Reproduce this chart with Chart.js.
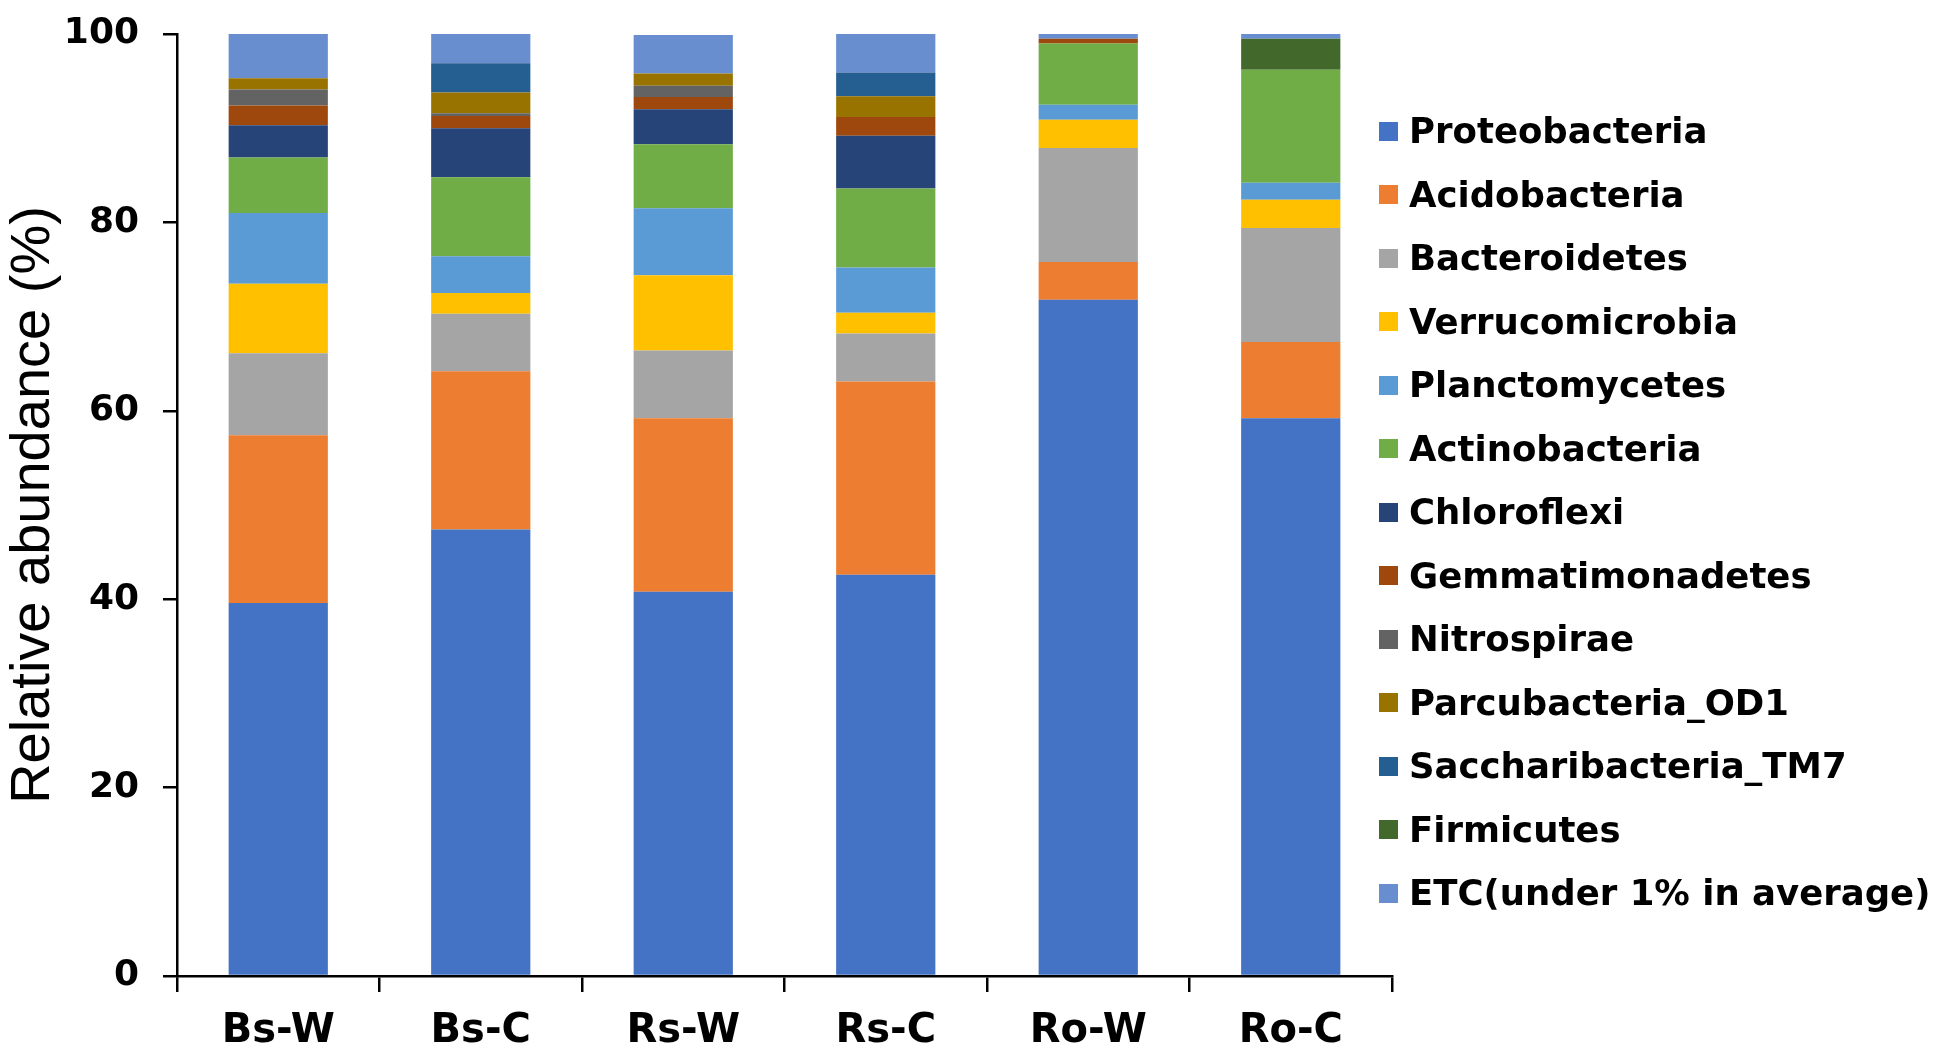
<!DOCTYPE html>
<html>
<head>
<meta charset="utf-8">
<script src="https://cdn.jsdelivr.net/npm/chart.js@4/dist/chart.umd.min.js"></script>
<style>
  html, body { margin: 0; padding: 0; background: #fff; }
  #wrap { position: relative; width: 1950px; height: 1064px; }
  #legend { position: absolute; left: 1379px; top: 99px; font-family: "DejaVu Sans", sans-serif; font-weight: bold; font-size: 35.5px; color: #000; }
  #legend div { height: 63.5px; line-height: 63.5px; white-space: nowrap; }
  #legend span { display: inline-block; width: 19px; height: 19px; margin-right: 11px; vertical-align: middle; position: relative; top: -2px; }
</style>
</head>
<body>
<div id="wrap">
  <canvas id="myChart" width="1950" height="1064"></canvas>
  <div id="legend"></div>
</div>
<script>
let samples = ['Bs-W', 'Bs-C', 'Rs-W', 'Rs-C', 'Ro-W', 'Ro-C'];

let proteobacteria   = [39.6, 47.4, 40.8, 42.6, 71.8, 59.2];
let acidobacteria    = [17.8, 16.8, 18.4, 20.5, 4.0, 8.1];
let bacteroidetes    = [8.7, 6.1, 7.2, 5.1, 12.1, 12.1];
let verrucomicrobia  = [7.4, 2.2, 8.0, 2.2, 3.0, 3.0];
let planctomycetes   = [7.5, 3.9, 7.1, 4.8, 1.6, 1.8];
let actinobacteria   = [5.9, 8.4, 6.8, 8.4, 6.5, 12.0];
let chloroflexi      = [3.4, 5.2, 3.7, 5.6, 0, 0];
let gemmatimonadetes = [2.1, 1.3, 1.3, 2.0, 0.5, 0];
let nitrospirae      = [1.7, 0.3, 1.2, 0, 0, 0];
let parcubacteria    = [1.2, 2.2, 1.3, 2.2, 0, 0];
let saccharibacteria = [0, 3.1, 0, 2.5, 0, 0];
let firmicutes       = [0, 0, 0, 0, 0, 3.3];
let etc              = [4.7, 3.1, 4.1, 4.1, 0.5, 0.5];

let yTicks = [0, 20, 40, 60, 80, 100];

let phyla = [
  ['Proteobacteria', proteobacteria, '#4472C4'],
  ['Acidobacteria', acidobacteria, '#ED7D31'],
  ['Bacteroidetes', bacteroidetes, '#A5A5A5'],
  ['Verrucomicrobia', verrucomicrobia, '#FFC000'],
  ['Planctomycetes', planctomycetes, '#5B9BD5'],
  ['Actinobacteria', actinobacteria, '#70AD47'],
  ['Chloroflexi', chloroflexi, '#264478'],
  ['Gemmatimonadetes', gemmatimonadetes, '#9E480E'],
  ['Nitrospirae', nitrospirae, '#636363'],
  ['Parcubacteria_OD1', parcubacteria, '#997300'],
  ['Saccharibacteria_TM7', saccharibacteria, '#255E91'],
  ['Firmicutes', firmicutes, '#43682B'],
  ['ETC(under 1% in average)', etc, '#698ED0']
];

let ctx = document.getElementById('myChart').getContext('2d');

let abundanceChart = new Chart(ctx, {
  type: 'bar',
  data: {
    labels: samples,
    datasets: phyla.map(p => ({
      label: p[0],
      data: p[1],
      backgroundColor: p[2],
      borderWidth: 0,
      barPercentage: 0.49,
      categoryPercentage: 1
    }))
  },
  options: {
    responsive: false,
    animation: false,
    layout: {
      padding: { top: 34, right: 558, bottom: 0, left: 0 }
    },
    plugins: {
      legend: { display: false },
      tooltip: { enabled: false }
    },
    scales: {
      x: {
        stacked: true,
        afterFit: axis => { axis.height = 88; },
        grid: { drawOnChartArea: false, color: '#000', lineWidth: 2.5, tickLength: 16 },
        border: { color: '#000', width: 2.5 },
        ticks: {
          color: '#000',
          padding: 16,
          font: { family: 'DejaVu Sans', weight: 'bold', size: 40 }
        }
      },
      y: {
        stacked: true,
        min: 0,
        max: 100,
        afterBuildTicks: axis => { axis.ticks = yTicks.map(v => ({ value: v })); },
        afterFit: axis => {
          axis.width = 177;
          axis.paddingTop = 0;
          axis.paddingBottom = 0;
        },
        grid: { drawOnChartArea: false, color: '#000', lineWidth: 2.5, tickLength: 14 },
        border: { color: '#000', width: 2.5 },
        ticks: {
          color: '#000',
          padding: 24,
          font: { family: 'DejaVu Sans', weight: 'bold', size: 36 }
        },
        title: {
          display: true,
          text: 'Relative abundance (%)',
          color: '#000',
          padding: { top: 6, bottom: 4 },
          font: { family: 'Liberation Sans', size: 56, lineHeight: 1 }
        }
      }
    }
  }
});

// legend sits over the right side, like the original
let legendBox = document.getElementById('legend');
phyla.forEach(p => {
  let row = document.createElement('div');
  let sq = document.createElement('span');
  sq.style.background = p[2];
  row.appendChild(sq);
  row.appendChild(document.createTextNode(p[0]));
  legendBox.appendChild(row);
});
</script>
</body>
</html>
